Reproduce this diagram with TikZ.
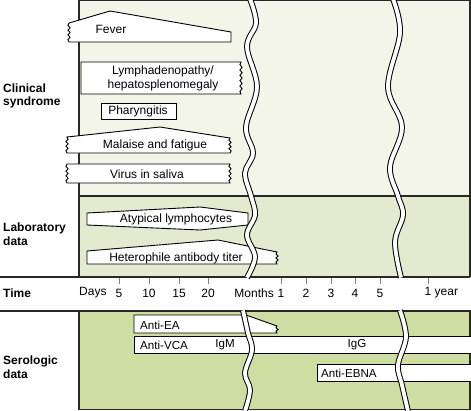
\documentclass[tikz,border=0pt]{standalone}
\usepackage{fontspec}
\setmainfont{Liberation Sans}
\definecolor{clin}{RGB}{243,245,233}
\definecolor{labc}{RGB}{227,234,208}
\definecolor{seroc}{RGB}{206,221,162}
\definecolor{edgec}{RGB}{40,40,40}
\tikzset{
  jag/.style args={#1/#2/#3/#4}{insert path={
    \foreach \k in {1,...,#4}{ -- ({#1+1.1*(1-2*mod(\k,2))},{#2+(#3-#2)*\k/(#4+1)}) } -- (#1,#3)}},
}
\begin{document}
\begin{tikzpicture}[x=1pt,y=-1pt,
  bar/.style={fill=white,draw=black,line width=0.9pt,line join=miter},
  txt/.style={font=\fontsize{12}{14}\selectfont,inner sep=0pt},
  stxt/.style={font=\fontsize{11.6}{14}\selectfont,inner sep=0pt},
  hd/.style={font=\fontsize{12}{13.5}\selectfont\bfseries,align=left,anchor=west,inner sep=0pt},
  wavy/.style={draw=black,double=white,double distance=3.8pt,line width=1pt},
  tickm/.style={draw=gray,line width=0.8pt},
  panel/.style={draw=edgec,line width=1.2pt}]
\useasboundingbox (0,0) rectangle (471,410);
% panels
\fill[clin] (79,0.7) rectangle (470,196);
\fill[labc] (79,196) rectangle (470,277);
\fill[seroc] (79,311) rectangle (470,409.3);
\draw[panel] (79,0.7) rectangle (470,196);
\draw[panel] (79,196) -- (79,277);
\draw[panel] (470,196) -- (470,277);
\draw[panel] (0,277) -- (470,277);
\draw[panel] (0,311) -- (470,311) -- (470,409.3) -- (79,409.3) -- (79,311);
% clinical bars
\filldraw[bar] (69,42) [jag=69/42/23/7] -- (110,11) -- (231,32) -- (231,42) -- cycle;
\filldraw[bar] (81,62) -- (241,62) [jag=241/62/94/11] -- (81,94) -- cycle;
\filldraw[bar] (101,103) rectangle (176,119);
\filldraw[bar] (67,153) [jag=67/153/137/6] -- (160,127) -- (230,138) [jag=230/138/153/6] -- cycle;
\filldraw[bar] (67,164) -- (230,164) [jag=230/164/183/7] -- (67,183) [jag=67/183/164/7] -- cycle;
% lab bars
\filldraw[bar] (87,213) -- (200,207) -- (248,213) -- (248,225) -- (200,230) -- (87,225) -- cycle;
\filldraw[bar] (87,251) -- (218,240) -- (277,252) [jag=277/252/264/5] -- (87,264) -- cycle;
% serologic bars
\filldraw[bar] (134,315) -- (246,315) -- (277,326) [jag=277/326/333/3] -- (134,333) -- cycle;
\fill[white] (134,336) rectangle (471,353);
\draw[bar] (471,336) -- (134,336) -- (134,353) -- (471,353);
\fill[white] (317,364) rectangle (471,381);
\draw[bar] (471,364) -- (317,364) -- (317,381) -- (471,381);
% waves
\draw[wavy] plot[smooth,tension=0.6] coordinates {(250,-1) (256,23) (247,47) (257,87) (246,127) (253,153) (245,173) (251,196) (255,215) (247,235) (255,257) (247,277.6)};
\draw[wavy] plot[smooth,tension=0.6] coordinates {(393,-1) (400,33) (388,87) (402,127) (390,167) (398,196) (403,215) (395,242) (401,277.6)};
\draw[wavy] plot[smooth,tension=0.6] coordinates {(243,310.4) (248,333) (252,350) (245,373) (250,390) (245,411)};
\draw[wavy] plot[smooth,tension=0.6] coordinates {(400,310.4) (406,337) (398,365) (402,385) (408,411)};
% bar texts
\node[txt] (fever) at (111,29) {Fever};
\node[txt,align=center] (lymph) at (163,78) {Lymphadenopathy/\\hepatosplenomegaly};
\node[txt] (phar) at (138,111) {Pharyngitis};
\node[txt] (mal) at (155,145) {Malaise and fatigue};
\node[txt] (vir) at (147,174) {Virus in saliva};
\node[txt] (aty) at (176,219) {Atypical lymphocytes};
\node[txt] (het) at (176,258) {Heterophile antibody titer};
\node[stxt,anchor=west] (ea) at (140,325) {Anti-EA};
\node[stxt,anchor=west] (vca) at (140,345) {Anti-VCA};
\node[stxt] (igm) at (225,345) {IgM};
\node[stxt] (igg) at (357,345) {IgG};
\node[stxt,anchor=west] (ebna) at (321,373) {Anti-EBNA};
% headings
\node[hd] (clinh) at (3,96) {Clinical\\syndrome};
\node[hd] (labh) at (3,234) {Laboratory\\data};
\node[hd] (timeh) at (3,293) {Time};
\node[hd] (seroh) at (3,367) {Serologic\\data};
% time axis
\foreach \x in {119,149,179,208,281,306,331,355,380,428}{
  \draw[tickm] (\x,277.6) -- (\x,284);
}
\node[txt,anchor=west] (days) at (79,293) {Days};
\node[txt] (d5) at (119,293) {5};
\node[txt] (d10) at (149,293) {10};
\node[txt] (d15) at (179,293) {15};
\node[txt] (d20) at (208,293) {20};
\node[txt,anchor=east] (months) at (274,293) {Months};
\node[txt] (m1) at (281,293) {1};
\node[txt] (m2) at (306,293) {2};
\node[txt] (m3) at (331,293) {3};
\node[txt] (m4) at (355,293) {4};
\node[txt] (m5) at (380,293) {5};
\node[txt,anchor=west] (yr) at (424.5,293) {1 year};
\end{tikzpicture}
\end{document}
